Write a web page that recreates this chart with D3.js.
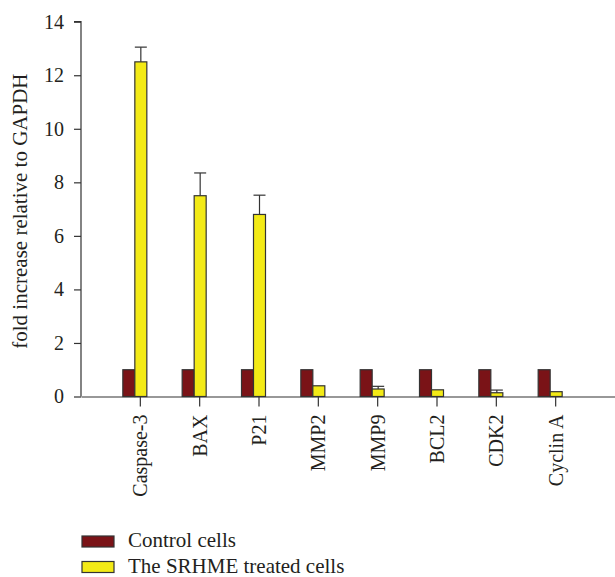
<!DOCTYPE html>
<html>
<head>
<meta charset="utf-8">
<script src="https://cdn.jsdelivr.net/npm/d3@7"></script>
<style>
  html, body { margin: 0; padding: 0; background: #fff; }
  svg { display: block; }
  text { font-family: "Liberation Serif", "Times New Roman", serif; fill: #231f20; }
</style>
</head>
<body>
<svg id="chart" width="615" height="577"></svg>
<script>
// Genes on the x axis
const genes = ["Caspase-3", "BAX", "P21", "MMP2", "MMP9", "BCL2", "CDK2", "Cyclin A"];
// Fold change relative to GAPDH
const controlValues = [1, 1, 1, 1, 1, 1, 1, 1];
const treatedValues = [12.5, 7.5, 6.8, 0.4, 0.28, 0.25, 0.14, 0.18];
// Upper error (SD) for treated cells
const treatedErrors = [0.55, 0.85, 0.72, 0, 0.1, 0, 0.1, 0];
const yTicks = [0, 2, 4, 6, 8, 10, 12, 14];
const seriesNames = ["Control cells", "The SRHME treated cells"];
const seriesColors = ["#7a1317", "#f3ea16"];

const svg = d3.select("#chart");

const x = d3.scaleBand().domain(genes).range([81, 615]).paddingInner(0).paddingOuter(0.5);
const y = d3.scaleLinear().domain([0, 14]).range([396.5, 21.7]);

const barW = 12;
const strokeCol = "#333";

// y axis
const yAxis = svg.append("g")
  .attr("transform", "translate(81,0)")
  .call(d3.axisLeft(y).tickValues(yTicks).tickSize(7).tickPadding(10).tickFormat(d3.format("d")));
yAxis.select(".domain").attr("stroke", strokeCol).attr("stroke-width", 1.2).attr("d", `M-7,${y(14)}H0V${y(0)}`);
yAxis.selectAll(".tick line").attr("stroke", strokeCol).attr("stroke-width", 1.2);
yAxis.selectAll(".tick text").attr("font-size", 20).attr("font-family", "Liberation Serif").attr("fill", "#231f20");

// x axis
const xAxis = svg.append("g")
  .attr("transform", `translate(0,${y(0)})`)
  .call(d3.axisBottom(x).tickSize(10).tickSizeOuter(0));
xAxis.select(".domain").attr("stroke", strokeCol).attr("stroke-width", 1.2);
xAxis.selectAll(".tick line").attr("stroke", strokeCol).attr("stroke-width", 1.2);
xAxis.selectAll(".tick text")
  .attr("font-size", 20)
  .attr("font-family", "Liberation Serif")
  .attr("fill", "#231f20")
  .attr("transform", "rotate(-90)")
  .attr("text-anchor", "end")
  .attr("x", -18)
  .attr("y", 0)
  .attr("dy", "0.35em");

const center = g => x(g) + x.bandwidth() / 2;

// control bars
svg.append("g").selectAll("rect")
  .data(genes)
  .join("rect")
  .attr("x", (g) => center(g) - 17.5)
  .attr("y", (g, i) => y(controlValues[i]))
  .attr("width", barW)
  .attr("height", (g, i) => y(0) - y(controlValues[i]))
  .attr("fill", seriesColors[0])
  .attr("stroke", strokeCol)
  .attr("stroke-width", 1.2);

// treated bars
svg.append("g").selectAll("rect")
  .data(genes)
  .join("rect")
  .attr("x", (g) => center(g) - 5.5)
  .attr("y", (g, i) => y(treatedValues[i]))
  .attr("width", barW)
  .attr("height", (g, i) => y(0) - y(treatedValues[i]))
  .attr("fill", seriesColors[1])
  .attr("stroke", strokeCol)
  .attr("stroke-width", 1.2);

// error bars (upper only)
const errG = svg.append("g").attr("stroke", strokeCol).attr("stroke-width", 1.2).attr("fill", "none");
genes.forEach((g, i) => {
  if (treatedErrors[i] <= 0) return;
  const cx = center(g) + 0.5;
  const top = y(treatedValues[i] + treatedErrors[i]);
  errG.append("line").attr("x1", cx).attr("x2", cx).attr("y1", y(treatedValues[i])).attr("y2", top);
  errG.append("line").attr("x1", cx - 6).attr("x2", cx + 6).attr("y1", top).attr("y2", top);
});

// y axis title
svg.append("text")
  .attr("transform", `translate(27,${(y(0) + y(14)) / 2 + 2}) rotate(-90)`)
  .attr("text-anchor", "middle")
  .attr("font-size", 21)
  .text("fold increase relative to GAPDH");

// legend
const legend = svg.append("g");
seriesNames.forEach((name, i) => {
  const ly = 536 + i * 25.5;
  legend.append("rect")
    .attr("x", 82).attr("y", ly)
    .attr("width", 32).attr("height", 11)
    .attr("fill", seriesColors[i])
    .attr("stroke", strokeCol)
    .attr("stroke-width", 1.2);
  legend.append("text")
    .attr("x", 128).attr("y", ly + 11)
    .attr("font-size", 21)
    .text(name);
});
</script>
</body>
</html>
